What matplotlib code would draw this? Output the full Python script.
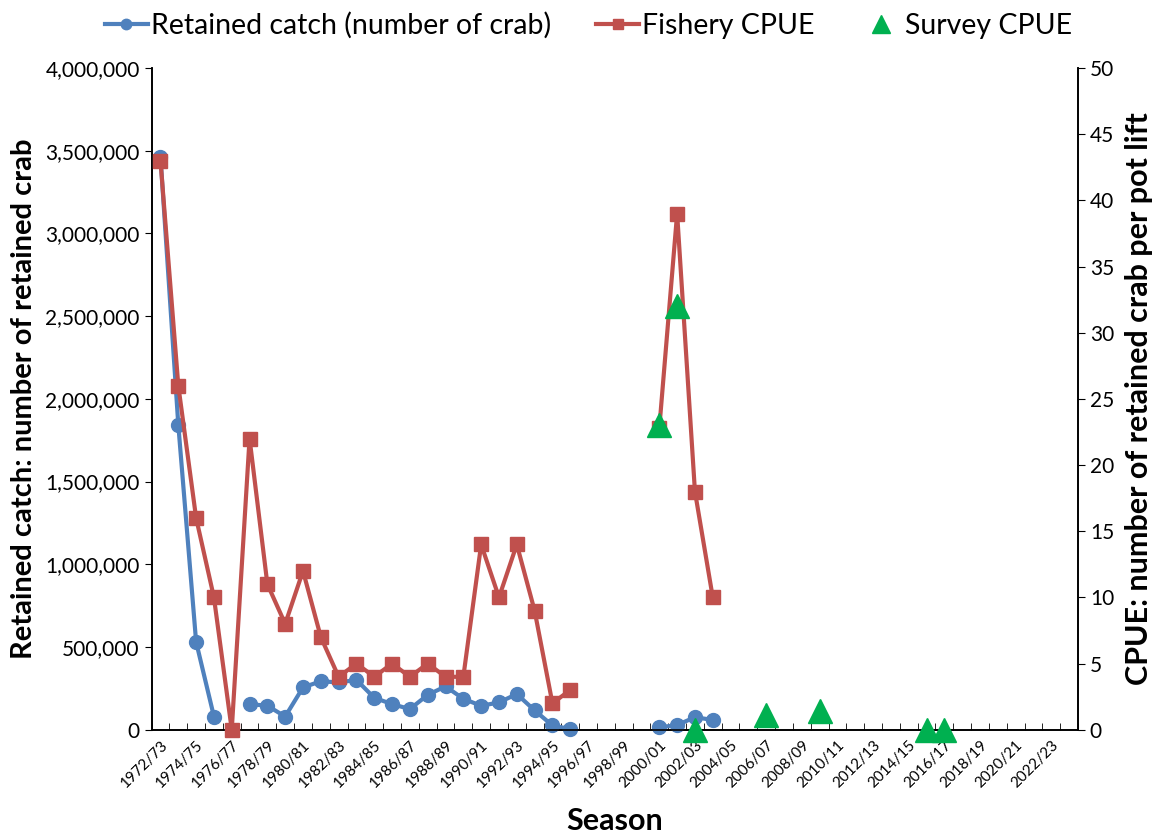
import numpy as np
import matplotlib.pyplot as plt
from matplotlib.ticker import FuncFormatter, MultipleLocator

plt.rcParams['font.family'] = ['Lato', 'DejaVu Sans']

# seasons 1972/73 .. 2023/24
seasons = ['%d/%02d' % (y, (y + 1) % 100) for y in range(1972, 2024)]

nan = np.nan
retained = [3462000, 1843000, 531000, 80000, nan, 155000, 145000, 80000, 256000, 293000,
            286000, 301000, 193000, 155000, 125000, 211000, 262000, 187000, 145000, 165000,
            216000, 117000, 26000, 4000, nan, nan, nan, nan, 15000, 28000,
            76000, 59000] + [nan] * 20
fishery_cpue = [43, 26, 16, 10, 0, 22, 11, 8, 12, 7,
                4, 5, 4, 5, 4, 5, 4, 4, 14, 10,
                14, 9, 2, 3, nan, nan, nan, nan, 22.8, 39,
                18, 10] + [nan] * 20
survey_season = ['2000/01', '2001/02', '2002/03', '2006/07', '2009/10', '2015/16', '2016/17']
survey_cpue = [23, 32, 0, 1.1, 1.4, 0, 0]

blue = '#4F81BD'
red = '#C0504D'
green = '#00B050'

x = np.arange(len(seasons))
xs = [seasons.index(s) for s in survey_season]

fig = plt.figure(figsize=(11.66, 8.34), dpi=100)
ax = fig.add_axes([0.130, 0.125, 0.7945, 0.7935])
ax2 = ax.twinx()

l1, = ax.plot(x, retained, color=blue, lw=3, marker='o', ms=10, zorder=3, clip_on=False)
l2, = ax2.plot(x, fishery_cpue, color=red, lw=3, marker='s', ms=10, zorder=3, clip_on=False)
l3, = ax2.plot(xs, survey_cpue, color=green, lw=0, marker='^', ms=17, zorder=4, clip_on=False)

ax.set_xlim(-0.5, len(seasons) - 0.5)
ax.set_ylim(0, 4000000)
ax2.set_ylim(0, 50)
ax.yaxis.set_major_locator(MultipleLocator(500000))
ax.yaxis.set_major_formatter(FuncFormatter(lambda v, p: '{:,.0f}'.format(v)))
ax2.yaxis.set_major_locator(MultipleLocator(5))

ax.set_xticks(x[::2])
ax.set_xticklabels(seasons[::2], rotation=45, ha='right', rotation_mode='anchor', fontsize=11)
ax.set_xticks(np.arange(len(seasons) + 1) - 0.5, minor=True)
ax.tick_params(axis='x', which='major', length=0, pad=6)
ax.tick_params(axis='x', which='minor', length=5, direction='in')
ax.tick_params(axis='y', labelsize=15, length=5, direction='out')
ax2.tick_params(axis='y', labelsize=15, length=5, direction='out')

for a in (ax, ax2):
    a.spines['top'].set_visible(False)
    for s in ('left', 'right', 'bottom'):
        a.spines[s].set_linewidth(1.2)

ax.set_xlabel('Season', fontsize=22, fontweight='bold', labelpad=12)
ax.set_ylabel('Retained catch: number of retained crab', fontsize=21, fontweight='bold', labelpad=6)
ax2.set_ylabel('CPUE: number of retained crab per pot lift', fontsize=22, fontweight='bold', labelpad=8)

fig.legend([l1, l2, l3], ['Retained catch (number of crab)', 'Fishery CPUE', 'Survey CPUE'],
           loc='upper center', bbox_to_anchor=(0.505, 1.016), ncol=3, frameon=False,
           fontsize=20.5, handlelength=1.5, handletextpad=0.1, columnspacing=1.6, markerscale=0.75)

fig.savefig('out.png', dpi=100)
